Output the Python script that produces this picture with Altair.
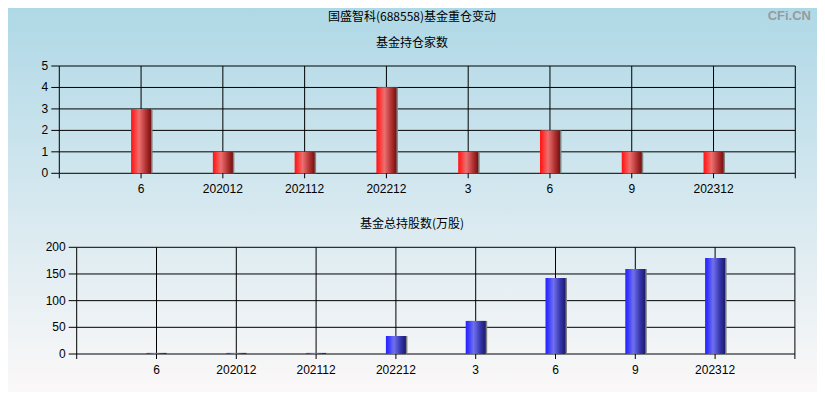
import altair as alt
import pandas as pd

# ---- data ----
categories = ["6", "202012", "202112", "202212", "3", "6", "9", "202312"]
fund_count = [3, 1, 1, 4, 1, 2, 1, 1]
fund_shares = [2, 2, 2, 33.7, 62, 142.5, 159.5, 180]
count_ticks = [0, 1, 2, 3, 4, 5]
shares_ticks = [0, 50, 100, 150, 200]

main_title = "国盛智科(688558)基金重仓变动"
title_top = "基金持仓家数"
title_bottom = "基金总持股数(万股)"
watermark = "CFi.CN"

# ---- layout (chart pixel space, page minus the 8px margin) ----
W, H = 809, 384
TOP_X = [51.3, 787.3]
TOP_Y = [165.3, 58.0]
BOT_X = [68.7, 786.9]
BOT_Y = [346.0, 239.3]

CJK = "Noto Sans CJK SC"
NUM = "Liberation Sans"

slots = list(range(len(categories) + 2))
positions = list(range(1, len(categories) + 1))


def grad(stops):
    return alt.LinearGradient(
        gradient="linear",
        stops=[alt.GradientStop(offset=o, color=c) for o, c in stops],
        x1=0, x2=1, y1=0, y2=0,
    )


RED = grad([(0, "#ff1414"), (0.12, "#ff2a2a"), (0.4, "#ec7070"), (0.75, "#b03030"), (1, "#741010")])
BLUE = grad([(0, "#2424ff"), (0.12, "#3434ff"), (0.4, "#7070ee"), (0.75, "#3434a8"), (1, "#1a1a70")])


def panel(values, ticks, xr, yr, fill):
    df = pd.DataFrame({"pos": positions, "label": categories, "value": values})
    xs = alt.Scale(domain=[slots[0], slots[-1]], range=xr, nice=False, zero=False, padding=0)
    ys = alt.Scale(domain=[ticks[0], ticks[-1]], range=yr, nice=False, zero=True, padding=0)
    X = lambda f: alt.X(f, scale=xs, axis=None)
    Y = lambda f: alt.Y(f, scale=ys, axis=None)

    vg = pd.DataFrame({"g": slots, "y0": [ticks[0]] * len(slots), "y1": [ticks[-1]] * len(slots)})
    hg = pd.DataFrame({"g": ticks, "x0": [slots[0]] * len(ticks), "x1": [slots[-1]] * len(ticks)})
    yt = pd.DataFrame({"v": ticks, "lab": [str(t) for t in ticks]})
    xt = pd.DataFrame({"g": slots})

    vgrid = alt.Chart(vg).mark_rule(color="black", strokeWidth=1).encode(
        x=X("g:Q"), y=Y("y0:Q"), y2="y1:Q")
    hgrid = alt.Chart(hg).mark_rule(color="black", strokeWidth=1).encode(
        y=Y("g:Q"), x=X("x0:Q"), x2="x1:Q")
    xticks = alt.Chart(xt).mark_rule(color="black", strokeWidth=1).encode(
        x=X("g:Q"), y=alt.value(yr[0]), y2=alt.value(yr[0] + 5))
    yticks = alt.Chart(yt).mark_rule(color="black", strokeWidth=1).encode(
        y=Y("v:Q"), x=alt.value(xr[0] - 8), x2=alt.value(xr[0]))
    xlabels = alt.Chart(df).mark_text(
        font=NUM, fontSize=12, color="black", align="center", baseline="middle"
    ).encode(x=X("pos:Q"), y=alt.value(yr[0] + 16), text="label:N")
    ylabels = alt.Chart(yt).mark_text(
        font=NUM, fontSize=12, color="black", align="right", baseline="middle"
    ).encode(y=Y("v:Q"), x=alt.value(xr[0] - 11), text="lab:N")

    shadow = alt.Chart(df).mark_bar(size=20, orient="vertical", color="#808080", xOffset=1.5).encode(
        x=X("pos:Q"), y=alt.Y("value:Q", scale=ys, axis=None, stack=None))
    bars = alt.Chart(df).mark_bar(size=20, orient="vertical", color=fill).encode(
        x=X("pos:Q"), y=alt.Y("value:Q", scale=ys, axis=None, stack=None))
    return alt.layer(vgrid, hgrid, shadow, bars, xticks, yticks, xlabels, ylabels)


def text(t, x, y, size=12, color="black", font=CJK, weight="normal", align="center"):
    return alt.Chart(pd.DataFrame({"t": [t]})).mark_text(
        fontSize=size, font=font, color=color, fontWeight=weight,
        align=align, baseline="middle",
    ).encode(x=alt.value(x), y=alt.value(y), text="t:N")


bg = alt.Chart(pd.DataFrame({"a": [0]})).mark_rect(
    color=alt.LinearGradient(
        gradient="linear",
        stops=[alt.GradientStop(offset=0, color="#afd8e6"),
               alt.GradientStop(offset=1, color="#fbf8f8")],
        x1=0, x2=0, y1=0, y2=1,
    )
).encode(x=alt.value(0), x2=alt.value(W), y=alt.value(0), y2=alt.value(H))

p1 = panel(fund_count, count_ticks, TOP_X, TOP_Y, RED)
p2 = panel(fund_shares, shares_ticks, BOT_X, BOT_Y, BLUE)

chart = alt.layer(
    bg, p1, p2,
    text(main_title, 404, 9),
    text(title_top, 404, 35),
    text(title_bottom, 404, 216),
    text(watermark, 803, 8, size=13, color="#9a9a9a", font=NUM, weight="bold", align="right"),
).resolve_scale(x="independent", y="independent").properties(
    width=W, height=H, autosize=alt.AutoSizeParams(type="none"), padding=0
).configure_view(stroke=None)

chart.save("out.html", embed_options={"renderer": "svg", "actions": False})
